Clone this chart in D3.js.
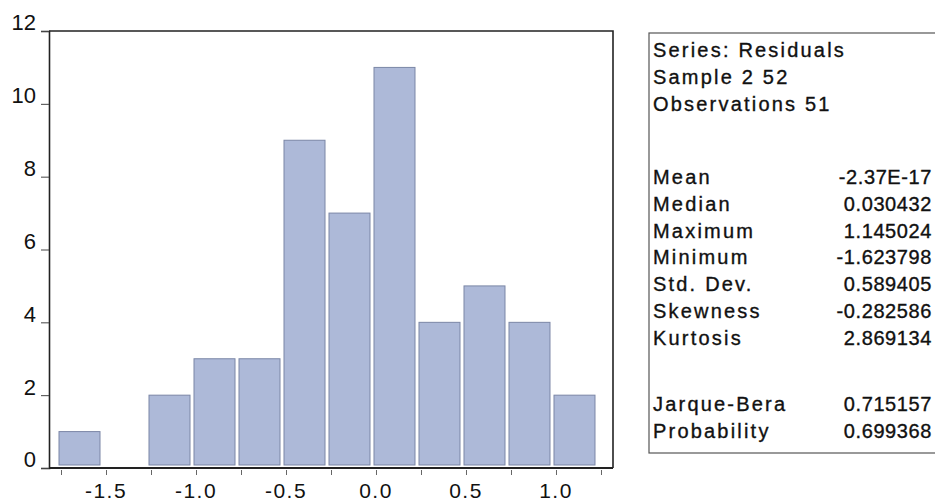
<!doctype html>
<html lang="en">
<head>
    <meta charset="utf-8">
    <title>Residuals histogram</title>
    <script src="https://d3js.org/d3.v7.min.js"></script>
    <style>
        body { margin: 0; background: #fff; }
        svg text { font-family: "Liberation Sans", Arial, sans-serif; fill: #111; }
    </style>
</head>
<body>
    <script>
        // Histogram data: bin lower edges (width 0.25) and counts
        const binStarts = [-1.75, -1.5, -1.25, -1.0, -0.75, -0.5, -0.25, 0.0, 0.25, 0.5, 0.75, 1.0];
        const binWidth = 0.25;
        const counts = [1, 0, 2, 3, 3, 9, 7, 11, 4, 5, 4, 2];

        // Axis ticks
        const yTicks = [0, 2, 4, 6, 8, 10, 12];
        const xLabelTicks = [-1.5, -1.0, -0.5, 0.0, 0.5, 1.0];
        const xMinorTicks = [-1.75, -1.5, -1.25, -1.0, -0.75, -0.5, -0.25, 0.0, 0.25, 0.5, 0.75, 1.0, 1.25];

        // Statistics panel
        const headerLines = ["Series: Residuals", "Sample 2 52", "Observations 51"];
        const statNames = ["Mean", "Median", "Maximum", "Minimum", "Std. Dev.", "Skewness", "Kurtosis"];
        const statValues = ["-2.37E-17", "0.030432", "1.145024", "-1.623798", "0.589405", "-0.282586", "2.869134"];
        const testNames = ["Jarque-Bera", "Probability"];
        const testValues = ["0.715157", "0.699368"];

        const width = 935;
        const height = 501;
        const plot = { left: 49, right: 613, top: 31, bottom: 468 };

        const svg = d3.select("body")
            .append("svg")
            .attr("width", width)
            .attr("height", height);

        // Scales
        const x = d3.scaleLinear()
            .domain([-1.8167, 1.3167])
            .range([plot.left, plot.right]);
        const y = d3.scaleLinear()
            .domain([0, 12])
            .range([plot.bottom, plot.top]);

        // Bars (slightly inset, shifted left as in the original)
        svg.append("g")
            .selectAll("rect")
            .data(binStarts.map((s, i) => ({ start: s, count: counts[i] })).filter(d => d.count > 0))
            .enter()
            .append("rect")
            .attr("x", d => x(d.start) - 2)
            .attr("y", d => y(d.count))
            .attr("width", d => x(d.start + binWidth) - x(d.start) - 4)
            .attr("height", d => y(0) - y(d.count) - 3)
            .attr("fill", "#adb9d8")
            .attr("stroke", "#7b86a6")
            .attr("stroke-width", 1);

        // Frame top and right
        svg.append("path")
            .attr("d", "M" + plot.left + "," + plot.top + "H" + plot.right + "V" + plot.bottom)
            .attr("fill", "none")
            .attr("stroke", "#222")
            .attr("stroke-width", 1.6);

        // Y axis
        const yAxis = d3.axisLeft(y)
            .tickValues(yTicks)
            .tickSize(8)
            .tickPadding(5)
            .tickFormat(d3.format("d"));
        const gy = svg.append("g")
            .attr("transform", "translate(" + plot.left + ",0)")
            .call(yAxis);
        gy.select(".domain").attr("stroke", "#222").attr("stroke-width", 1.6);
        gy.selectAll(".tick line").attr("stroke", "#444");
        gy.selectAll(".tick text")
            .attr("font-size", 22)
            .attr("dy", "-0.05em");

        // X axis: bottom line, minor ticks everywhere, labels at 0.5 steps
        svg.append("line")
            .attr("x1", plot.left).attr("x2", plot.right)
            .attr("y1", plot.bottom).attr("y2", plot.bottom)
            .attr("stroke", "#222")
            .attr("stroke-width", 2);

        const xAxis = d3.axisBottom(x)
            .tickValues(xMinorTicks)
            .tickSize(5)
            .tickFormat("");
        const gx = svg.append("g")
            .attr("transform", "translate(0," + (plot.bottom + 2) + ")")
            .call(xAxis);
        gx.select(".domain").remove();
        gx.selectAll(".tick line").attr("stroke", "#666");

        svg.append("g")
            .selectAll("text")
            .data(xLabelTicks)
            .enter()
            .append("text")
            .attr("x", d => x(d))
            .attr("y", 498)
            .attr("text-anchor", "middle")
            .attr("font-size", 21)
            .attr("letter-spacing", 1.5)
            .text(d => d3.format(".1f")(d).replace("−", "-"));

        // Statistics box
        const box = { left: 649, top: 33, right: 940, bottom: 453 };
        svg.append("rect")
            .attr("x", box.left)
            .attr("y", box.top)
            .attr("width", box.right - box.left)
            .attr("height", box.bottom - box.top)
            .attr("fill", "none")
            .attr("stroke", "#555")
            .attr("stroke-width", 1.2);

        const rowH = 26.8;
        const textX = 653;
        const valueX = 932;
        const statFont = 20;

        const rows = [];
        headerLines.forEach((t, i) => rows.push({ label: t, value: "", y: 57 + i * rowH }));
        statNames.forEach((t, i) => rows.push({ label: t, value: statValues[i], y: 184 + i * rowH }));
        testNames.forEach((t, i) => rows.push({ label: t, value: testValues[i], y: 411 + i * rowH }));

        const statG = svg.append("g");
        statG.selectAll("text.lab")
            .data(rows)
            .enter()
            .append("text")
            .attr("class", "lab")
            .attr("x", textX)
            .attr("y", d => d.y)
            .attr("font-size", statFont)
            .attr("letter-spacing", 2.2)
            .attr("stroke", "#111")
            .attr("stroke-width", 0.35)
            .text(d => d.label);
        statG.selectAll("text.val")
            .data(rows.filter(d => d.value))
            .enter()
            .append("text")
            .attr("class", "val")
            .attr("x", valueX)
            .attr("y", d => d.y)
            .attr("text-anchor", "end")
            .attr("font-size", statFont)
            .attr("letter-spacing", 0.6)
            .attr("stroke", "#111")
            .attr("stroke-width", 0.35)
            .text(d => d.value);
    </script>
</body>
</html>
